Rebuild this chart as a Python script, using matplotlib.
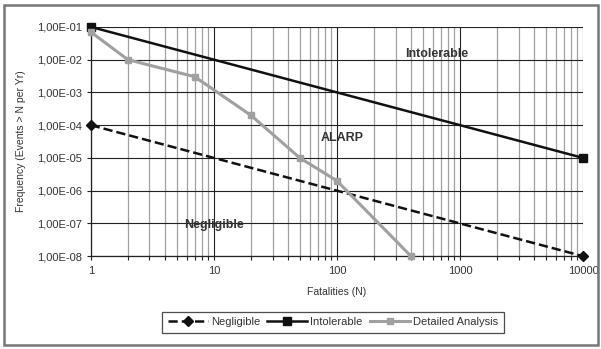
import matplotlib
matplotlib.use("Agg")
import matplotlib.pyplot as plt
from matplotlib.patches import Rectangle
from matplotlib.ticker import FixedLocator, LogLocator, NullFormatter, FuncFormatter

plt.rcParams['font.family'] = ['Liberation Sans', 'DejaVu Sans']

neg_x = [1, 10000]
neg_y = [1e-4, 1e-8]
int_x = [1, 10000]
int_y = [1e-1, 1e-5]
det_x = [1, 2, 7, 20, 50, 100, 400]
det_y = [7e-2, 1e-2, 3e-3, 2e-4, 1e-5, 2e-6, 1e-8]
yticks = [1e-1, 1e-2, 1e-3, 1e-4, 1e-5, 1e-6, 1e-7, 1e-8]
xticks = [1, 10, 100, 1000, 10000]

fig = plt.figure(figsize=(6.01, 3.49), dpi=100)
ax = fig.add_axes([0.151, 0.266, 0.819, 0.657])

ax.set_xscale('log')
ax.set_yscale('log')
ax.set_xlim(1, 10000)
ax.set_ylim(1e-8, 1e-1)

ax.xaxis.set_major_locator(FixedLocator(xticks))
ax.xaxis.set_minor_locator(LogLocator(base=10, subs=range(2, 10)))
ax.xaxis.set_minor_formatter(NullFormatter())
ax.xaxis.set_major_formatter(FuncFormatter(lambda v, p: f"{v:g}" if v < 1e5 else ""))
ax.yaxis.set_major_locator(FixedLocator(yticks))
ax.yaxis.set_minor_locator(FixedLocator([]))
ax.yaxis.set_major_formatter(FuncFormatter(lambda v, p: f"{v:.2E}".replace('.', ',')))

ax.grid(which='major', axis='both', color='#222222', lw=0.8)
ax.grid(which='minor', axis='x', color='#a0a0a0', lw=0.9)
ax.set_axisbelow(True)

for s in ['top', 'right']:
    ax.spines[s].set_visible(False)
for s in ['left', 'bottom']:
    ax.spines[s].set_color('#222222')
    ax.spines[s].set_linewidth(0.9)

ax.tick_params(axis='both', which='major', labelsize=8, length=3, width=0.8, color='#222222', labelcolor='#333333')
ax.tick_params(axis='x', which='minor', length=3, width=0.8, color='#222222')
ax.tick_params(axis='x', which='major', pad=4)

ax.plot(neg_x, neg_y, color='#111111', ls='--', lw=1.8, marker='D', ms=5, label='Negligible', clip_on=False, zorder=3)
ax.plot(int_x, int_y, color='#111111', ls='-', lw=1.8, marker='s', ms=6, label='Intolerable', clip_on=False, zorder=4)
ax.plot(det_x, det_y, color='#a0a0a0', ls='-', lw=2.2, marker='s', ms=5, label='Detailed Analysis', clip_on=False, zorder=5)

ax.text(650, 1.5e-2, 'Intolerable', fontsize=9, fontweight='bold', color='#333333', ha='center', va='center')
ax.text(110, 4e-5, 'ALARP', fontsize=9, fontweight='bold', color='#333333', ha='center', va='center')
ax.text(10, 9e-8, 'Negligible', fontsize=9, fontweight='bold', color='#333333', ha='center', va='center')

ax.set_xlabel('Fatalities (N)', fontsize=7.5, color='#333333', labelpad=8)
ax.set_ylabel('Frequency (Events > N per Yr)', fontsize=7.5, color='#333333', labelpad=8)

leg = fig.legend(loc='center', bbox_to_anchor=(0.554, 0.077), ncol=3, fontsize=8,
                 frameon=True, fancybox=False, edgecolor='#222222', handlelength=3.6,
                 handletextpad=0.3, columnspacing=0.6, borderpad=0.5)
leg.get_frame().set_linewidth(0.9)
for t in leg.get_texts():
    t.set_color('#333333')

fig.patches.append(Rectangle((0.007, 0.012), 0.988, 0.975, transform=fig.transFigure,
                             fill=False, edgecolor='#777777', lw=1.8))

fig.savefig('out.png', dpi=100)
